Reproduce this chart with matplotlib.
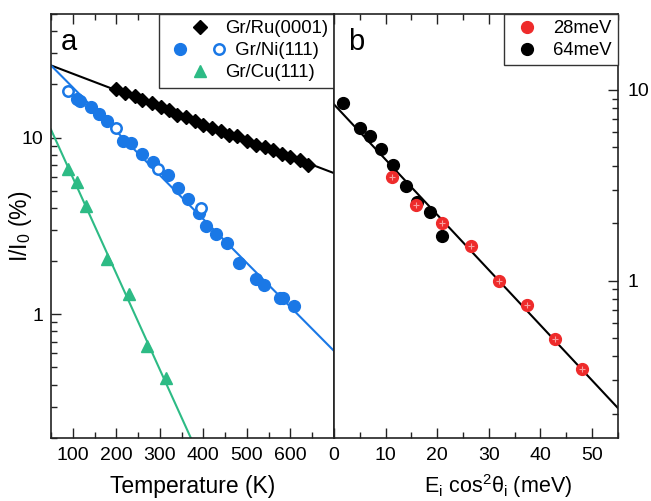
import numpy as np
import matplotlib
matplotlib.use('Agg')
from matplotlib import pyplot as plt
from matplotlib.legend_handler import HandlerTuple
from matplotlib.ticker import MultipleLocator, LogLocator, NullFormatter, FixedLocator

plt.rcParams['font.family'] = ['Liberation Sans', 'DejaVu Sans']
plt.rcParams['mathtext.fontset'] = 'custom'
plt.rcParams['mathtext.rm'] = 'Liberation Sans'
plt.rcParams['mathtext.it'] = 'Liberation Sans'

# panel a : attenuation vs temperature
ru_T = [200, 219, 242, 260, 281, 303, 322, 340, 360, 381, 399, 420,
        440, 459, 477, 500, 520, 541, 559, 580, 600, 621, 641]
ru_I = [18.7, 17.9, 17.1, 16.4, 15.7, 14.9, 14.4, 13.5, 13.1, 12.4, 11.8, 11.3,
        10.9, 10.4, 10.2, 9.5, 9.1, 8.85, 8.55, 8.12, 7.78, 7.51, 6.98]
ni_T = [110, 116, 143, 160, 178, 215, 234, 259, 284, 318, 341, 365,
        390, 407, 430, 455, 483, 520, 540, 575, 584, 609]
ni_I = [16.5, 16.2, 14.9, 13.6, 12.4, 9.5, 9.33, 8.12, 7.25, 6.10, 5.20, 4.47,
        3.76, 3.15, 2.83, 2.54, 1.94, 1.59, 1.46, 1.24, 1.23, 1.11]
ni_open_T = [90, 200, 295, 395]
ni_open_I = [18.3, 11.3, 6.65, 4.01]
cu_T = [90, 110, 131, 178, 229, 270, 315]
cu_I = [6.65, 5.59, 4.09, 2.06, 1.31, 0.657, 0.433]

# fitted lines (end points)
ru_fit_T = [50, 700]
ru_fit_I = [25.6, 6.29]
ni_fit_T = [50, 700]
ni_fit_I = [25.6, 0.62]
cu_fit_T = [50, 371]
cu_fit_I = [11.1, 0.2]

# panel b : attenuation vs normal energy
e64 = [1.74, 4.98, 6.9, 9.17, 11.5, 13.9, 16.1, 18.7, 21.0]
i64 = [8.59, 6.29, 5.73, 4.87, 4.02, 3.13, 2.57, 2.28, 1.72]
e28 = [11.3, 15.9, 21.0, 26.5, 32.0, 37.5, 42.8, 48.0]
i28 = [3.50, 2.50, 2.00, 1.51, 0.99, 0.745, 0.493, 0.346]
b_fit_E = [0, 55]
b_fit_I = [8.4, 0.215]

blue = '#1a78e6'
green = '#2dbb85'
red = '#ee2b2b'
spine_col = '#222222'
tick_fs = 14
label_fs = 16.5
leg_fs = 13.3

fig = plt.figure(figsize=(6.51, 5.01), dpi=100)
axa = fig.add_axes([0.0783, 0.1263, 0.4347, 0.8457])
axb = fig.add_axes([0.513, 0.1263, 0.436, 0.8457])

# ---- panel a ----
axa.plot(ru_fit_T, ru_fit_I, color='black', lw=1.5, zorder=2)
axa.plot(ni_fit_T, ni_fit_I, color=blue, lw=1.5, zorder=2)
axa.plot(cu_fit_T, cu_fit_I, color=green, lw=1.5, zorder=2)
h_ru, = axa.plot(ru_T, ru_I, 'D', color='black', ms=7, ls='none', zorder=3)
h_ni, = axa.plot(ni_T, ni_I, 'o', color=blue, ms=8.5, ls='none', zorder=3)
h_nio, = axa.plot(ni_open_T, ni_open_I, 'o', mfc='white', mec=blue, mew=1.8,
                  ms=7.5, ls='none', zorder=3)
h_cu, = axa.plot(cu_T, cu_I, '^', color=green, ms=8.5, ls='none', zorder=3)

axa.set_yscale('log')
axa.set_xlim(50, 700)
axa.set_ylim(0.2, 50)
axa.xaxis.set_major_locator(FixedLocator([100, 200, 300, 400, 500, 600, 700]))
axa.xaxis.set_minor_locator(MultipleLocator(50))
axa.set_xticklabels(['100', '200', '300', '400', '500', '600', ''])
axa.yaxis.set_major_locator(FixedLocator([1, 10]))
axa.yaxis.set_minor_locator(LogLocator(base=10, subs=np.arange(2, 10)))
axa.yaxis.set_minor_formatter(NullFormatter())
axa.set_yticklabels(['1', '10'])
axa.tick_params(which='both', direction='in', top=True, right=False,
                labelsize=tick_fs, color=spine_col, width=1)
axa.tick_params(axis='x', pad=7)
axa.tick_params(axis='y', pad=5.5)
axa.tick_params(which='major', length=7)
axa.tick_params(which='minor', length=4)
axa.set_xlabel('Temperature (K)', fontsize=label_fs)
axa.xaxis.set_label_coords(0.5, -0.088)
axa.set_ylabel('I/I$_0$ (%)', fontsize=label_fs)
axa.yaxis.set_label_coords(-0.06, 0.5)
axa.text(0.035, 0.935, 'a', transform=axa.transAxes, fontsize=21,
         va='center', ha='left')

leg = axa.legend([h_ru, (h_ni, h_nio), h_cu],
                 ['Gr/Ru(0001)', '  Gr/Ni(111)', 'Gr/Cu(111)'],
                 handler_map={tuple: HandlerTuple(ndivide=None, pad=0.45)},
                 loc='upper right', borderaxespad=0, fontsize=leg_fs,
                 handlelength=3.8, handletextpad=-0.55, labelspacing=0.28,
                 borderpad=0.33, fancybox=False, framealpha=1,
                 edgecolor='#333333')
leg.get_frame().set_linewidth(1)

# ---- panel b ----
axb.plot(b_fit_E, b_fit_I, color='black', lw=1.5, zorder=2)
h64, = axb.plot(e64, i64, 'o', color='black', ms=8.5, ls='none', zorder=3)
h28, = axb.plot(e28, i28, 'o', color=red, ms=8.5, ls='none', zorder=4)
axb.plot(e28, i28, '+', color='#f7a0a0', ms=5, mew=0.8, ls='none', zorder=5)

axb.set_yscale('log')
axb.set_xlim(0, 55)
axb.set_ylim(0.15, 25)
axb.xaxis.set_major_locator(MultipleLocator(10))
axb.xaxis.set_minor_locator(MultipleLocator(5))
axb.yaxis.set_major_locator(FixedLocator([1, 10]))
axb.yaxis.set_minor_locator(LogLocator(base=10, subs=np.arange(2, 10)))
axb.yaxis.set_minor_formatter(NullFormatter())
axb.set_yticklabels(['1', '10'])
axb.yaxis.tick_right()
axb.tick_params(which='both', direction='in', top=True, left=False,
                right=True, labelleft=False, labelright=True,
                labelsize=tick_fs, color=spine_col, width=1)
axb.tick_params(axis='x', pad=7)
axb.tick_params(axis='y', pad=7)
axb.tick_params(which='major', length=7)
axb.tick_params(which='minor', length=4)
axb.set_xlabel(r'E$_\mathregular{i}$ cos$^\mathregular{2}$$\theta_\mathregular{i}$ (meV)',
               fontsize=15.5)
axb.xaxis.set_label_coords(0.577, -0.082)
axb.text(0.05, 0.935, 'b', transform=axb.transAxes, fontsize=21,
         va='center', ha='left')

legb = axb.legend([h28, h64], ['28meV', '64meV'], loc='upper right',
                  borderaxespad=0, fontsize=leg_fs, handlelength=1.84,
                  handletextpad=0.5, labelspacing=0.28, borderpad=0.33,
                  fancybox=False, framealpha=1, edgecolor='#333333')
legb.get_frame().set_linewidth(1)

for ax in (axa, axb):
    for s in ax.spines.values():
        s.set_color(spine_col)
        s.set_linewidth(1.2)

fig.savefig('out.png', dpi=100)
